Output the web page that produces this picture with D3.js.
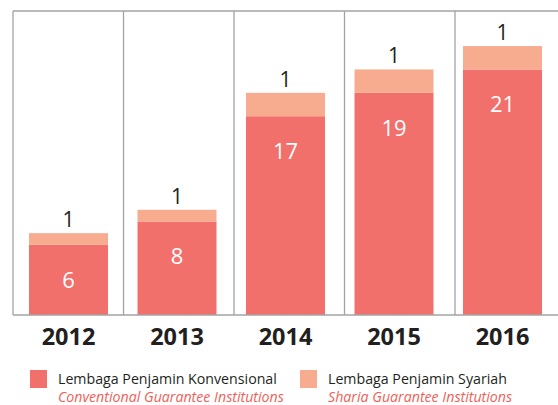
<!DOCTYPE html>
<html>
<head>
<meta charset="utf-8">
<script src="https://cdn.jsdelivr.net/npm/d3@7"></script>
<style>
  body { margin: 0; background: #fff; }
  svg { display: block; }
</style>
</head>
<body>
<div id="container"></div>
<script>
// ---------------- DATA ----------------
const years = ["2012", "2013", "2014", "2015", "2016"];
const konvensional = [6, 8, 17, 19, 21];
// syariah segments as drawn in the picture (all labelled "1")
const syariah = [1, 1, 2, 2, 2];
const syariahLabels = ["1", "1", "1", "1", "1"];
const legendMain = ["Lembaga Penjamin Konvensional", "Lembaga Penjamin Syariah"];
const legendSub = ["Conventional Guarantee Institutions", "Sharia Guarantee Institutions"];

const width = 558;
const height = 405;
const plotTop = 11, plotBottom = 315;

const cKonv = "#f1706c";
const cSyar = "#f7ab8f";
const gridColor = "#a3a3a3";
const font = "'Open Sans', sans-serif";

const svg = d3.select("#container").append("svg")
    .attr("width", width)
    .attr("height", height);

// ---------------- SCALES ----------------
// column cells (grid) and bars use slightly different steps, as in the picture
const xCell = d3.scaleBand().domain(years).range([13, 13 + 5 * 110.5]).padding(0);
const xBar = d3.scaleBand().domain(years).range([14.25, 14.25 + 5 * 108.5]).paddingInner(0.272).paddingOuter(0.136);
const y = d3.scaleLinear().domain([0, 26]).range([plotBottom, plotTop]);

// ---------------- GRID ----------------
const grid = svg.append("g");
grid.append("line")
    .attr("x1", 13).attr("x2", width)
    .attr("y1", plotTop).attr("y2", plotTop)
    .attr("stroke", gridColor).attr("stroke-width", 1.3);

grid.selectAll(".vline")
    .data(years)
    .enter().append("line")
    .attr("x1", d => xCell(d)).attr("x2", d => xCell(d))
    .attr("y1", plotTop).attr("y2", plotBottom)
    .attr("stroke", gridColor).attr("stroke-width", 1.3);

// ---------------- BARS ----------------
const rows = years.map((yr, i) => ({ year: yr, konv: konvensional[i], syar: syariah[i], label: syariahLabels[i] }));

const bars = svg.selectAll(".bar")
    .data(rows)
    .enter().append("g");

bars.append("rect")
    .attr("x", d => xBar(d.year))
    .attr("width", xBar.bandwidth())
    .attr("y", d => y(d.konv))
    .attr("height", d => y(0) - y(d.konv))
    .attr("fill", cKonv);

bars.append("rect")
    .attr("x", d => xBar(d.year))
    .attr("width", xBar.bandwidth())
    .attr("y", d => y(d.konv + d.syar))
    .attr("height", d => y(d.konv) - y(d.konv + d.syar))
    .attr("fill", cSyar);

bars.append("text")
    .attr("x", d => xBar(d.year) + xBar.bandwidth() / 2)
    .attr("y", d => y(d.konv) + 43)
    .attr("text-anchor", "middle")
    .attr("font-family", font)
    .attr("font-size", 22)
    .attr("fill", "#fff")
    .text(d => d.konv);

bars.append("text")
    .attr("x", d => xBar(d.year) + xBar.bandwidth() / 2)
    .attr("y", d => y(d.konv + d.syar) - 6)
    .attr("text-anchor", "middle")
    .attr("font-family", font)
    .attr("font-size", 21)
    .attr("fill", "#231f20")
    .text(d => d.label);

// ---------------- AXIS ----------------
const xAxis = svg.append("g")
    .attr("transform", "translate(0," + plotBottom + ")")
    .call(d3.axisBottom(xBar).tickSize(0).tickPadding(0));
xAxis.select(".domain").remove();
xAxis.append("line")
    .attr("x1", 13).attr("x2", width)
    .attr("stroke", gridColor).attr("stroke-width", 1.6);
xAxis.selectAll("text")
    .attr("y", 30)
    .attr("dy", 0)
    .attr("font-family", font)
    .attr("font-weight", 700)
    .attr("font-size", 23.5)
    .attr("fill", "#231f20");

// ---------------- LEGEND ----------------
const legendX = [30, 300];
const legend = svg.selectAll(".legend")
    .data(legendMain)
    .enter().append("g")
    .attr("transform", (d, i) => "translate(" + legendX[i] + ",370)");

legend.append("rect")
    .attr("width", 17).attr("height", 18)
    .attr("fill", (d, i) => i === 0 ? cKonv : cSyar);

legend.append("text")
    .attr("x", 28).attr("y", 14)
    .attr("font-family", font)
    .attr("font-size", 14.2)
    .attr("fill", "#231f20")
    .text(d => d);

legend.append("text")
    .attr("x", 28).attr("y", 32)
    .attr("font-family", font)
    .attr("font-style", "italic")
    .attr("font-size", 14.2)
    .attr("fill", "#ef5f5a")
    .text((d, i) => legendSub[i]);
</script>
</body>
</html>
